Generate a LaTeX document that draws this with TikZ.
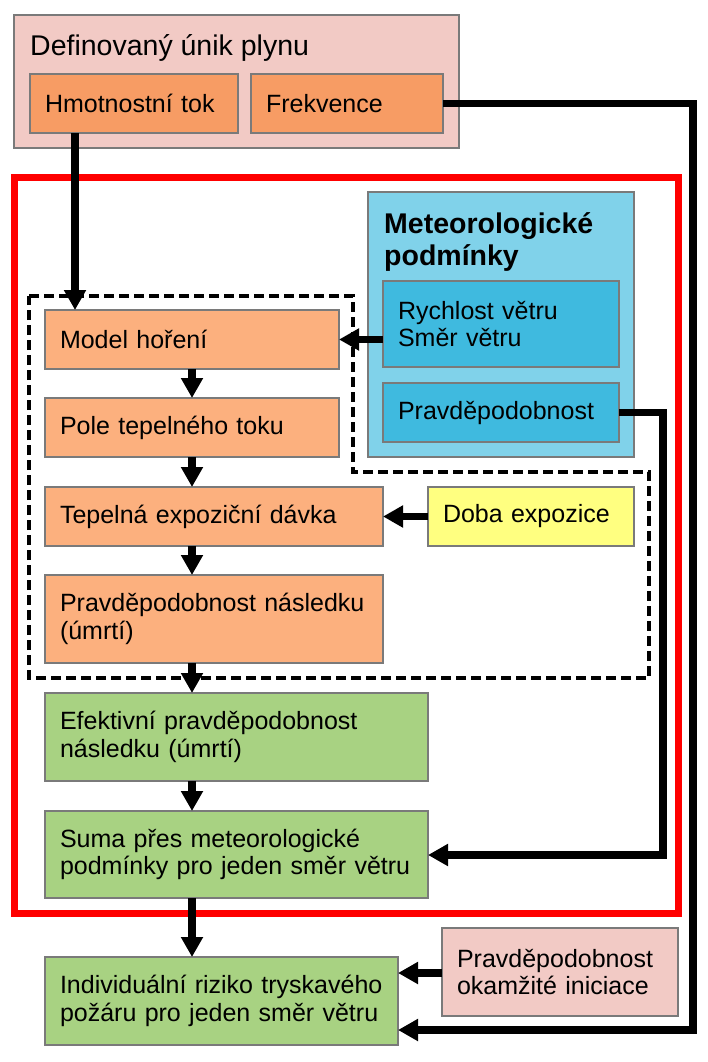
\documentclass[tikz,border=0pt]{standalone}
\usepackage{fontspec}
\setmainfont{Liberation Sans}
\usetikzlibrary{arrows.meta}

\definecolor{unikpink}{HTML}{F2CAC5}
\definecolor{tokorange}{HTML}{F79C64}
\definecolor{modelorange}{HTML}{FCB07E}
\definecolor{meteoblue}{HTML}{80D2EA}
\definecolor{windblue}{HTML}{3FBADF}
\definecolor{dobayellow}{HTML}{FFFF80}
\definecolor{riskgreen}{HTML}{A8D282}
\definecolor{boxline}{HTML}{7A7A7A}

\begin{document}
\begin{tikzpicture}[x=1pt,y=-1pt,
  flow node/.style={rectangle,draw=boxline,line width=1.2pt,anchor=north west,
    inner xsep=15pt,inner ysep=0pt,outer sep=0pt,align=left,
    font=\fontsize{25pt}{27.5pt}\selectfont},
  flow arrow/.style={line width=7.5pt,-{Triangle[length=20pt,width=21pt]}},
  dash box/.style={line width=4pt,dash pattern=on 10pt off 5pt},
  red frame/.style={draw=red,line width=7pt}]
  \useasboundingbox (0,0) rectangle (708,1062);

  % frames
  \draw[red frame] (14,177) rectangle (678,913);
  \draw[dash box] (29,296) -- (353,296) -- (353,472) -- (649,472) -- (649,678) -- (29,678) -- cycle;

  \node[flow node,fill=unikpink,text width=415pt,minimum height=133pt] (unik) at (14,15) {};
  \node[anchor=base west,inner sep=0pt,font=\fontsize{28.5pt}{32pt}\selectfont] (unikt) at (30,56) {Definovaný únik plynu};
  \node[flow node,fill=tokorange,text width=178pt,minimum height=59pt] (hmot) at (30,74) {Hmotnostní tok};
  \node[flow node,fill=tokorange,text width=162pt,minimum height=59pt] (frek) at (251,74) {Frekvence};

  \node[flow node,fill=meteoblue,text width=236pt,minimum height=265pt] (meteo) at (368,192) {};
  \node[anchor=north west,inner sep=0pt,align=left,font=\fontsize{28.5pt}{32pt}\selectfont\bfseries] (meteot) at (384,212) {Meteorologické\\podmínky};
  \node[flow node,fill=windblue,text width=206pt,minimum height=86pt] (rych) at (383,281) {Rychlost větru\\Směr větru};
  \node[flow node,fill=windblue,text width=206pt,minimum height=59pt] (pmet) at (383,383) {Pravděpodobnost};

  \node[flow node,fill=modelorange,text width=264pt,minimum height=59pt] (mh) at (45,310) {Model hoření};
  \node[flow node,fill=modelorange,text width=264pt,minimum height=59pt] (pole) at (45,398) {Pole tepelného toku};
  \node[flow node,fill=modelorange,text width=308pt,minimum height=59pt] (tep) at (45,487) {Tepelná expoziční dávka};
  \node[flow node,fill=dobayellow,text width=176pt,minimum height=59pt] (doba) at (428,487) {Doba expozice};
  \node[flow node,fill=modelorange,text width=308pt,minimum height=88pt] (pnas) at (45,575) {Pravděpodobnost následku\\(úmrtí)};

  \node[flow node,fill=riskgreen,text width=353pt,minimum height=88pt] (efek) at (45,693) {Efektivní pravděpodobnost\\následku (úmrtí)};
  \node[flow node,fill=riskgreen,text width=353pt,minimum height=87pt] (suma) at (45,811) {Suma přes meteorologické\\podmínky pro jeden směr větru};
  \node[flow node,fill=riskgreen,text width=323pt,minimum height=88pt] (indiv) at (45,957) {Individuální riziko tryskavého\\požáru pro jeden směr větru};
  \node[flow node,fill=unikpink,text width=206pt,minimum height=88pt] (pinic) at (442,928) {Pravděpodobnost\\okamžité iniciace};

  \coordinate (c0) at (75,0);
  \coordinate (c1) at (693,1030);
  \coordinate (c2) at (663,855);

  % arrows
  \path[]
  (hmot.south -| c0) [flow arrow] edge node [] {} (mh.north -| c0)
  (mh.south) [flow arrow] edge node [] {} (pole.north)
  (pole.south) [flow arrow] edge node [] {} (tep.north -| pole.north)
  (tep.south -| mh.south) [flow arrow] edge node [] {} (pnas.north -| mh.south)
  (pnas.south -| mh.south) [flow arrow] edge node [] {} (efek.north -| mh.south)
  (efek.south -| mh.south) [flow arrow] edge node [] {} (suma.north -| mh.south)
  (suma.south -| mh.south) [flow arrow] edge node [] {} (indiv.north -| mh.south)
  (rych.west |- mh.east) [flow arrow] edge node [] {} (mh.east)
  (doba.west) [flow arrow] edge node [] {} (tep.east)
  (pinic.west |- 0,973) [flow arrow] edge node [] {} (indiv.east |- 0,973);
  \draw[flow arrow] (frek.east) -| (c1) -- (c1 -| indiv.east);
  \draw[flow arrow] (pmet.east) -| (c2) -- (c2 -| suma.east);
\end{tikzpicture}
\end{document}
